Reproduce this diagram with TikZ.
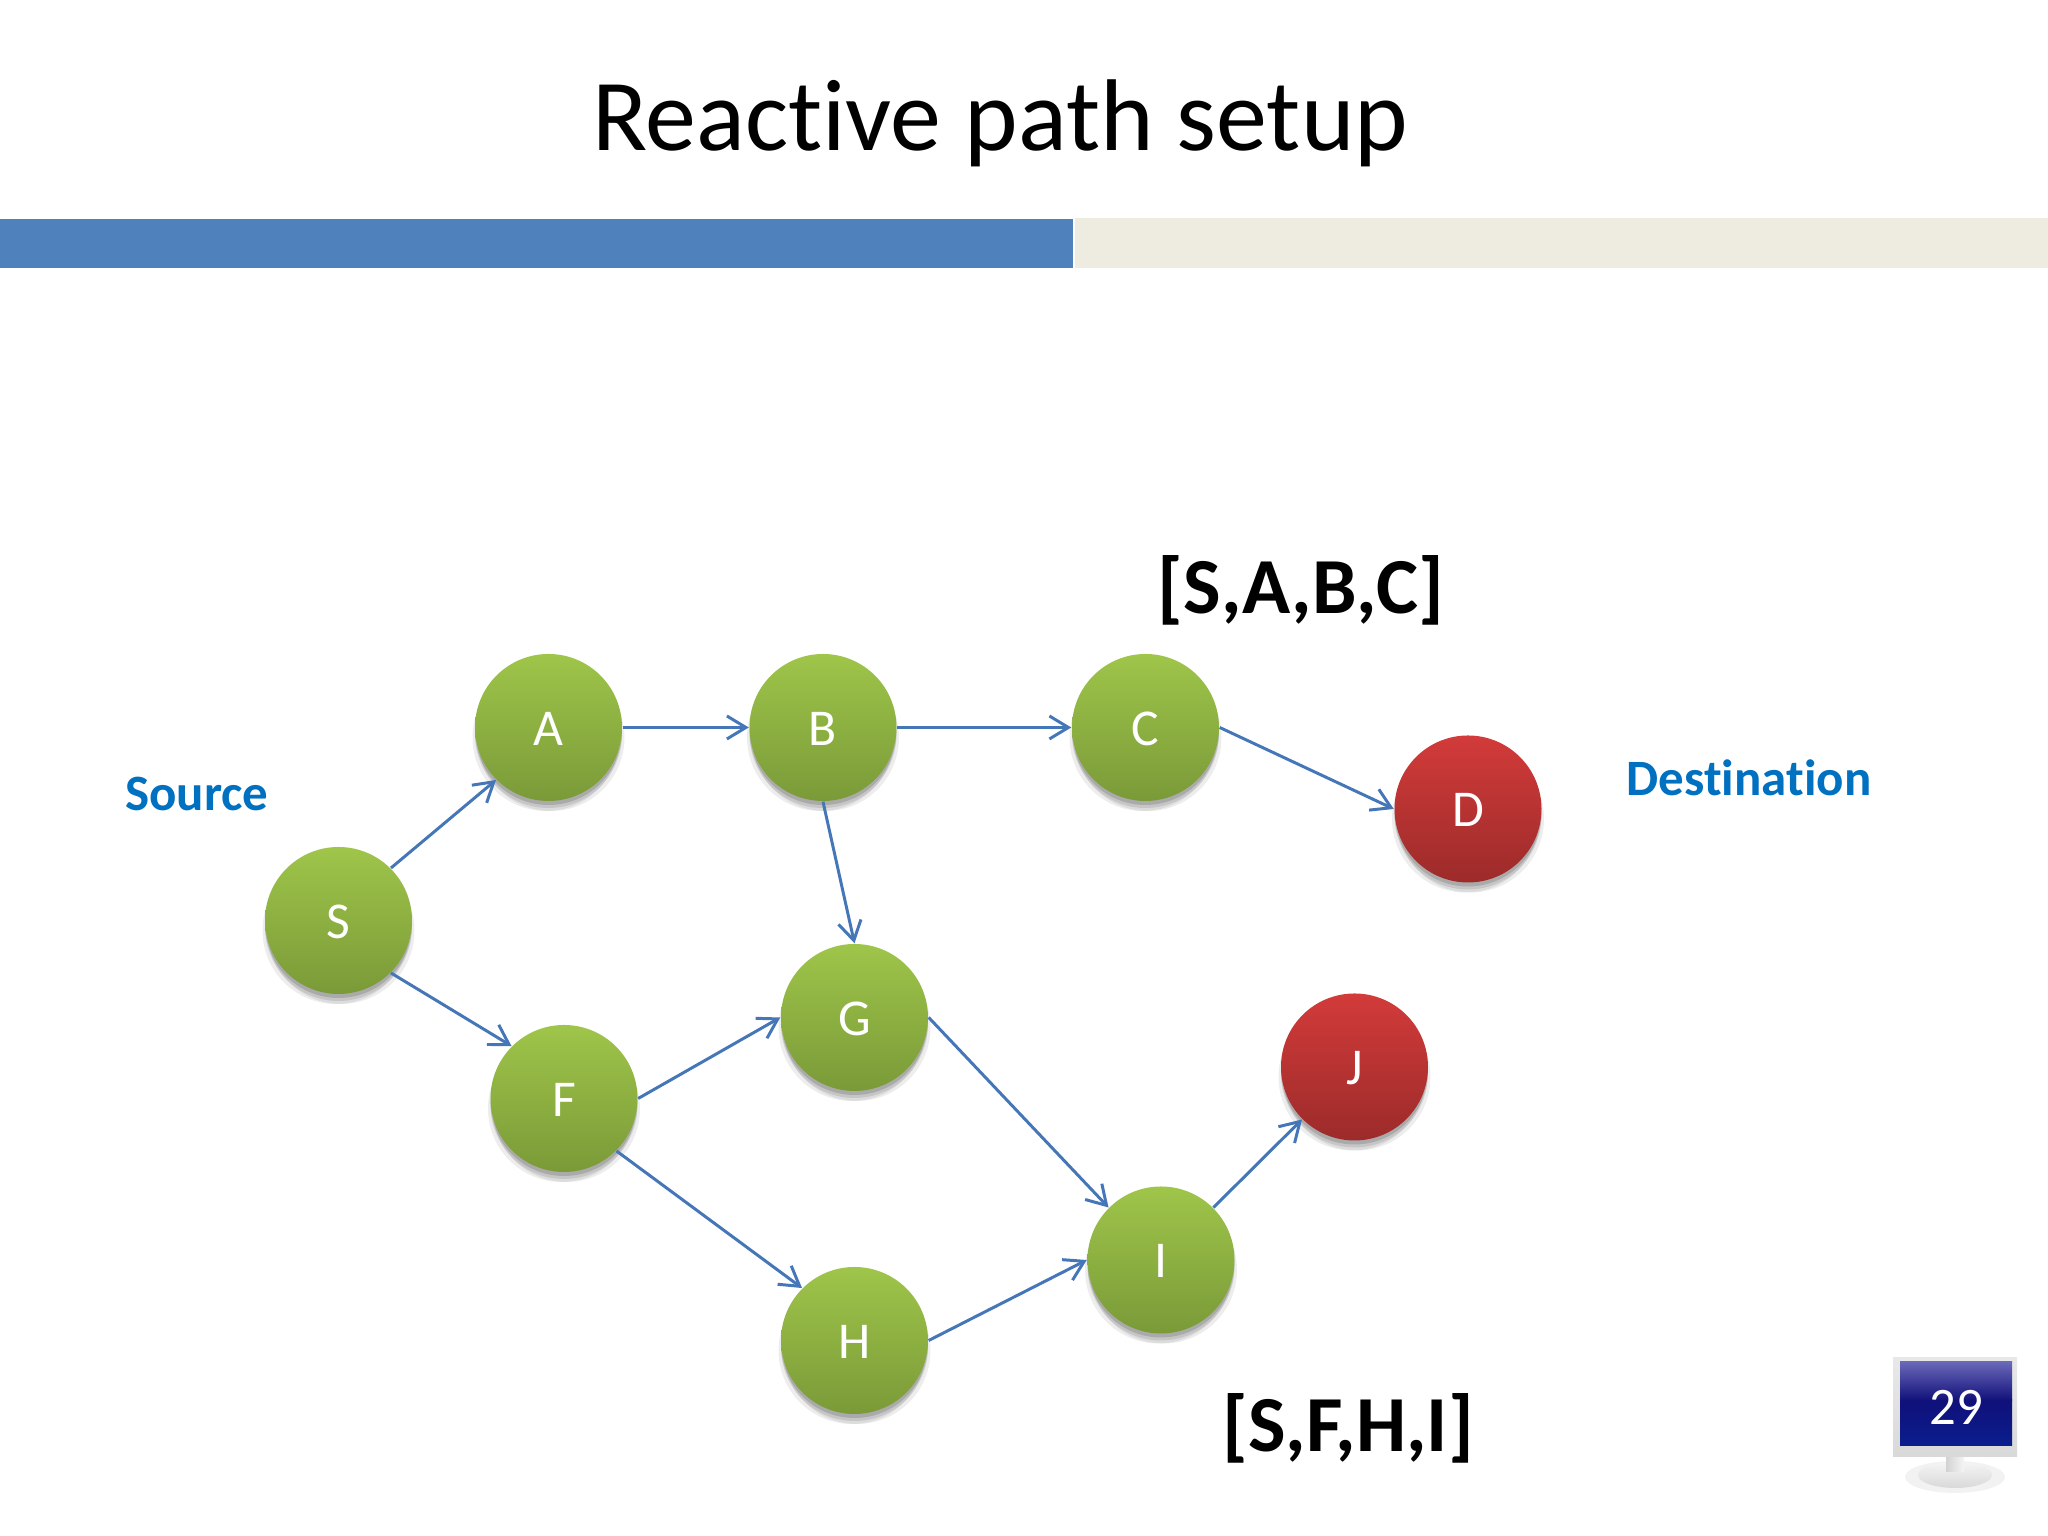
\documentclass[tikz,border=0pt]{standalone}
\usepackage{fontspec}
\setmainfont[Ligatures=NoCommon]{Carlito}
\usepackage{tikz}
\usetikzlibrary{
   arrows.meta,
   shadows,
   positioning
}

\begin{document}
\begin{tikzpicture}[
    hostbase/.style={circle, draw=none, minimum size=14.7mm, inner sep=0pt, text=white, text height=3.6mm, text depth=0pt, font=\fontsize{14.7}{18}\selectfont,
        preaction={fill=black, opacity=.07, transform canvas={xshift=-.25mm, yshift=-1.0mm}},
        preaction={fill=black, opacity=.07, transform canvas={xshift=.25mm, yshift=-1.0mm}},
        preaction={fill=black, opacity=.10, transform canvas={yshift=-.7mm}},
        preaction={fill=black, opacity=.14, transform canvas={yshift=-.4mm}}},
    host/.style={hostbase, top color=nodetop, bottom color=nodebottom},
    target/.style={hostbase, top color=desttop, bottom color=destbottom},
    hop/.style={-{Straight Barb[length=1.9mm, width=2.3mm]}, line width=.85pt, draw=hopblue},
    route/.style={font=\bfseries\fontsize{22.6}{26}\selectfont},
    role/.style={text=roleblue, font=\bfseries\fontsize{14.5}{18}\selectfont}
]
\definecolor{nodetop}{HTML}{9FC54A}
\definecolor{nodebottom}{HTML}{7A9A38}
\definecolor{desttop}{HTML}{D23B3A}
\definecolor{destbottom}{HTML}{9C2B2A}
\definecolor{hopblue}{HTML}{4577B8}
\definecolor{roleblue}{HTML}{0070C0}
\definecolor{barblue}{HTML}{4F81BD}
\definecolor{barbeige}{HTML}{EEECE1}
\definecolor{screentop}{HTML}{6A68B8}
\definecolor{screenmid}{HTML}{10107A}
\definecolor{screenlow}{HTML}{0A1E8E}

\useasboundingbox (0,0) rectangle (20.48,15.36);

% title and bar
\node (title) at (10.00,14.13) {\fontsize{29}{34}\selectfont Reactive path setup};
\fill[barbeige] (10.75,12.68) rectangle (20.48,13.18);
\fill[barblue] (0,12.68) rectangle (10.73,13.17);

% network
\node[host] (S) at (3.385,6.155) {S};
\node[host] (A) at (5.485,8.085) {A};
\node[host] (B) at (8.23,8.085) {B};
\node[host] (C) at (11.455,8.085) {C};
\node[target] (D) at (14.68,7.27) {D};
\node[host] (F) at (5.64,4.375) {F};
\node[host] (G) at (8.545,5.185) {G};
\node[host] (H) at (8.545,1.955) {H};
\node[host] (I) at (11.61,2.76) {I};
\node[target] (J) at (13.545,4.69) {J};

\draw[hop] (S.45) -- (A.225);
\draw[hop] (S.-45) -- (F.135);
\draw[hop] (A) -- (B);
\draw[hop] (B) -- (C);
\draw[hop] (C.east) -- (D.west);
\draw[hop] (B.south) -- (G.north);
\draw[hop] (F.east) -- (G.west);
\draw[hop] (F.-45) -- (H.135);
\draw[hop] (G.east) -- (I.135);
\draw[hop] (H.east) -- (I.west);
\draw[hop] (I.45) -- (J.225);

% labels
\node[role] (source) at (1.97,7.42) {Source};
\node[role] (destination) at (17.49,7.58) {Destination};
\node[route] (pathC) at (13.01,9.46) {[S,A,B,C]};
\node[route] (pathI) at (13.48,1.08) {[S,F,H,I]};

% page monitor
\fill[gray!10] (19.55,0.59) ellipse (.50 and .16);
\shade[top color=gray!8, bottom color=gray!30] (19.55,0.61) ellipse (.37 and .13);
\shade[left color=gray!35, right color=gray!8] (19.46,0.64) rectangle (19.64,0.79);
\shade[top color=gray!18, bottom color=gray!30] (18.93,0.79) rectangle (20.17,1.78);
\shade[top color=screenmid, bottom color=screenlow] (19.00,0.90) rectangle (20.12,1.36);
\shade[top color=screentop, bottom color=screenmid] (19.00,1.35) rectangle (20.12,1.74);
\node[text=white, font=\fontsize{15}{18}\selectfont] (page) at (19.56,1.29) {29};
\end{tikzpicture}
\end{document}
